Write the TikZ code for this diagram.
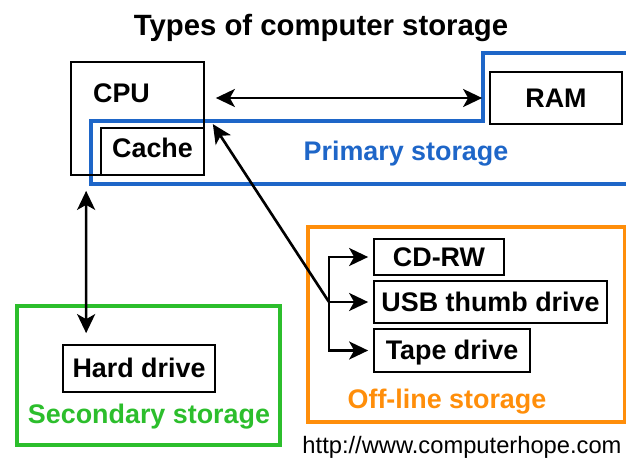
\documentclass[tikz,border=0pt]{standalone}
\usepackage{fontspec}
\setmainfont{Liberation Sans}
\usetikzlibrary{arrows.meta}

\begin{document}
\begin{tikzpicture}[x=0.02cm,y=-0.02cm,>={Stealth[length=0.38cm,width=0.36cm,inset=0.1cm]}]
%% Colors
\definecolor{primCol}{RGB}{30,102,200}
\definecolor{secCol}{RGB}{44,190,44}
\definecolor{offCol}{RGB}{255,142,10}
%% Styles
\tikzset{
unit/.style={draw,line width=1pt,inner sep=0pt,text height=10.6pt,text depth=0pt,
font=\bfseries\fontsize{15.3}{18}\selectfont},
lbl/.style={inner sep=0pt,anchor=base,font=\bfseries\fontsize{15.3}{18}\selectfont},
frame/.style={draw,line width=1.9pt},
link/.style={draw,line width=1.5pt,->},
dlink/.style={draw,line width=1.5pt,<->}
}
\useasboundingbox (0,0) rectangle (626,457);

% Title
\node[lbl,font=\bfseries\fontsize{16.7}{20}\selectfont] (title) at (321,35) {Types of computer storage};

% Primary storage
\path[draw,primCol,line width=1.9pt] (626,53) -- (483,53) -- (483,121) -- (91,121) -- (91,184) -- (626,184);
\node[unit,minimum width=2.66cm,minimum height=2.26cm] (cpu) at (137.5,118.5) {};
\node[lbl] (cpulbl) at (121.5,102) {CPU};
\node[unit,text height=7pt,minimum width=2.06cm,minimum height=0.94cm] (cache) at (152.5,151.5) {Cache};
\node[unit,minimum width=2.64cm,minimum height=1.04cm] (ram) at (556,98) {RAM};
\node[lbl,primCol] (primlbl) at (406,160) {Primary storage};

% Secondary storage
\path[frame,secCol] (17,306) rectangle (280,445);
\node[unit,minimum width=3.04cm,minimum height=0.94cm] (hdd) at (139,368.5) {Hard drive};
\node[lbl,secCol] (seclbl) at (149,423) {Secondary storage};

% Off-line storage
\path[frame,offCol] (308,227) rectangle (625,422);
\node[unit,minimum width=2.6cm,minimum height=0.72cm] (cdrw) at (439,257) {CD-RW};
\node[unit,minimum width=4.66cm,minimum height=0.84cm] (usb) at (490.5,302) {USB thumb drive};
\node[unit,minimum width=3.12cm,minimum height=0.86cm] (tape) at (452,350.5) {Tape drive};
\node[lbl,offCol] (offlbl) at (447,408) {Off-line storage};

% Connections
\path[dlink,shorten <=0.22cm,shorten >=0.14cm] (cpu.east |- ram.west) -- (ram.west);
\path[dlink,shorten <=0.3cm,shorten >=0.22cm] ([xshift=0.32cm]cpu.south west) -- ([xshift=0.48cm]hdd.north west);
\coordinate (fork) at (329,302);
\path[link] (fork) -- ([xshift=0.16cm,yshift=0.06cm]cache.north east);
\path[link,shorten >=0.1cm] (fork) |- (cdrw.west);
\path[link,shorten >=0.1cm] (fork) -- (usb.west);
\path[link,shorten >=0.1cm] (fork) |- (tape.west);

% Source
\node[inner sep=0pt,anchor=base,font=\fontsize{13.5}{16}\selectfont] (url) at (462,453) {http://www.computerhope.com};
\end{tikzpicture}
\end{document}
